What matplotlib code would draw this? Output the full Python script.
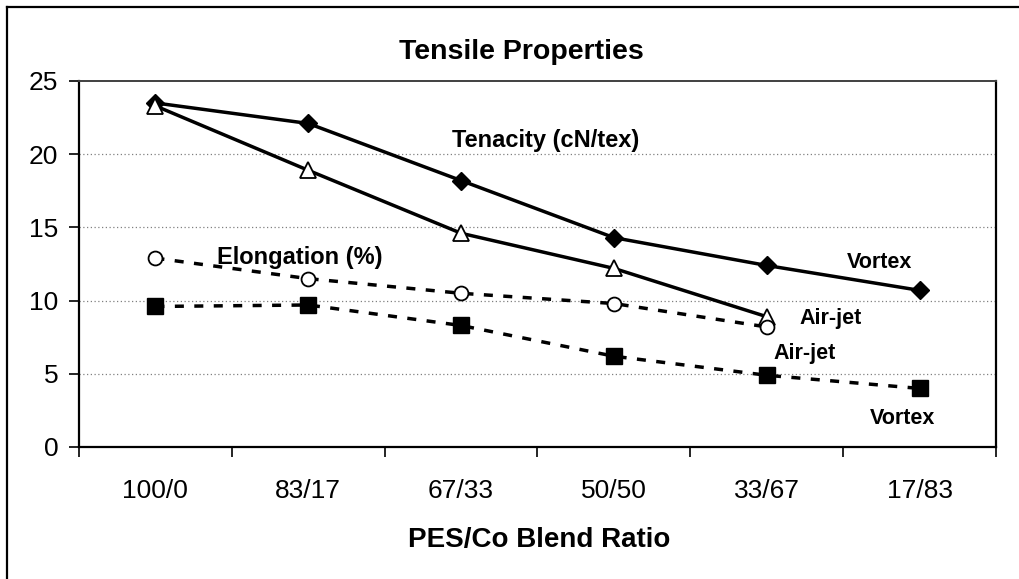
import matplotlib
matplotlib.use("Agg")
import matplotlib.pyplot as plt
from matplotlib.lines import Line2D

plt.rcParams["font.family"] = ["Liberation Sans", "DejaVu Sans"]

categories = ["100/0", "83/17", "67/33", "50/50", "33/67", "17/83"]
tenacity_vortex = [23.5, 22.1, 18.2, 14.3, 12.4, 10.7]
tenacity_airjet = [23.3, 18.9, 14.6, 12.2, 8.9]
elong_airjet = [12.9, 11.5, 10.5, 9.8, 8.2]
elong_vortex = [9.6, 9.7, 8.3, 6.2, 4.9, 4.0]
yticks = [0, 5, 10, 15, 20, 25]

fig = plt.figure(figsize=(10.2, 5.79), dpi=100)
ax = fig.add_axes([79 / 1020, 1 - 447 / 579, 917 / 1020, 366 / 579])

x_all = list(range(len(categories)))
lw = 2.5
dash = (2.6, 3.0)

ax.plot(x_all, tenacity_vortex, color="black", lw=lw, marker="D", ms=9.5,
        mfc="black", mec="black", zorder=3)
ax.plot(x_all[:len(tenacity_airjet)], tenacity_airjet, color="black", lw=lw,
        marker="^", ms=11, mfc="white", mec="black", mew=1.3, zorder=3)
ax.plot(x_all[:len(elong_airjet)], elong_airjet, color="black", lw=lw,
        dashes=dash, marker="o", ms=10, mfc="white", mec="black", mew=1.3, zorder=3)
ax.plot(x_all, elong_vortex, color="black", lw=lw, dashes=dash, marker="s",
        ms=11.5, mfc="black", mec="black", zorder=3)

ax.set_xlim(-0.5, len(categories) - 0.5)
ax.set_ylim(0, 25)
ax.set_yticks(yticks)
ax.tick_params(axis="y", direction="out", length=7, width=1.2, labelsize=19, pad=8)

# category boundaries get ticks, labels sit in the middle
ax.set_xticks([i - 0.5 for i in range(len(categories) + 1)])
ax.set_xticklabels([])
ax.set_xticks(x_all, minor=True)
ax.set_xticklabels(categories, minor=True)
ax.tick_params(axis="x", which="major", direction="out", length=7, width=1.2)
ax.tick_params(axis="x", which="minor", length=0, labelsize=19, pad=23)

for y in yticks[1:-1]:
    ax.axhline(y, color="#808080", lw=0.9, ls=(0, (1, 2)), zorder=1)

for side in ["left", "bottom", "right"]:
    ax.spines[side].set_color("black")
    ax.spines[side].set_linewidth(1.6)
ax.spines["top"].set_color("#404040")
ax.spines["top"].set_linewidth(1.4)

ax.text(2.556, 20.5, "Tenacity (cN/tex)", fontsize=17, fontweight="bold",
        ha="center", va="baseline")
ax.text(0.40, 12.5, "Elongation (%)", fontsize=17, fontweight="bold",
        ha="left", va="baseline")
ax.text(4.74, 12.25, "Vortex", fontsize=15.5, fontweight="bold",
        ha="center", va="baseline")
ax.text(4.415, 8.4, "Air-jet", fontsize=15.5, fontweight="bold",
        ha="center", va="baseline")
ax.text(4.245, 6.0, "Air-jet", fontsize=15.5, fontweight="bold",
        ha="center", va="baseline")
ax.text(4.89, 1.57, "Vortex", fontsize=15.5, fontweight="bold",
        ha="center", va="baseline")

fig.text(521 / 1020, 1 - 59 / 579, "Tensile Properties", fontsize=20.5,
         fontweight="bold", ha="center", va="baseline")
fig.text(539 / 1020, 1 - 547 / 579, "PES/Co Blend Ratio", fontsize=20,
         fontweight="bold", ha="center", va="baseline")

# chart-area border (only left and top visible in the crop)
fig.add_artist(Line2D([7 / 1020, 7 / 1020], [0, 1 - 7 / 579],
                      transform=fig.transFigure, color="black", lw=1.6))
fig.add_artist(Line2D([7 / 1020, 1], [1 - 7 / 579, 1 - 7 / 579],
                      transform=fig.transFigure, color="black", lw=1.6))

fig.savefig("out.png", dpi=100)
